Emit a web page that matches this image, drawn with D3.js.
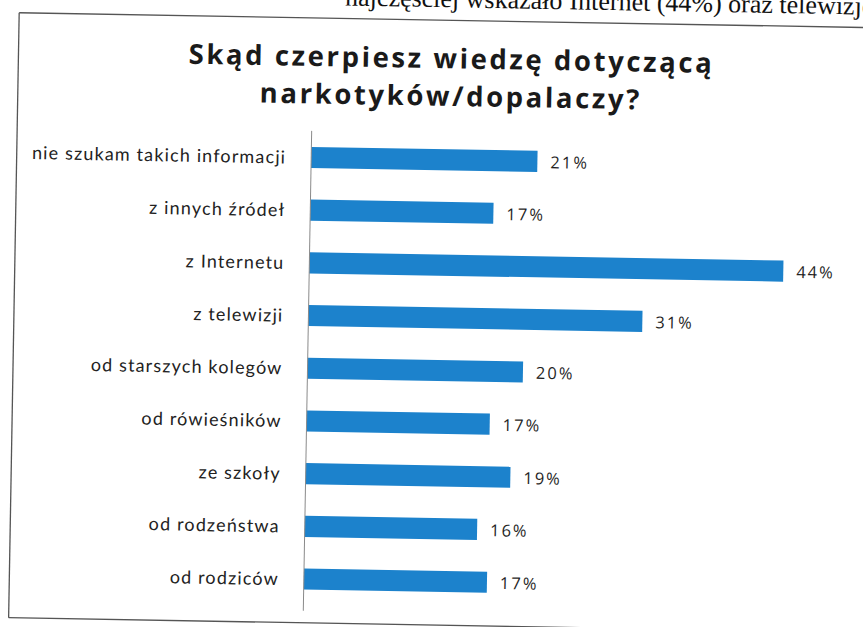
<!DOCTYPE html>
<html>
<head>
<meta charset="utf-8">
<script src="https://cdn.jsdelivr.net/npm/d3@7"></script>
<style>
  html, body { margin: 0; padding: 0; background: #fff; }
  svg { display: block; }
</style>
</head>
<body>
<svg id="chart" width="863" height="627"></svg>
<script>
// ---- data ----
const categories = [
  "nie szukam takich informacji",
  "z innych źródeł",
  "z Internetu",
  "z telewizji",
  "od starszych kolegów",
  "od rówieśników",
  "ze szkoły",
  "od rodzeństwa",
  "od rodziców"
];
const values = [21, 17, 44, 31, 20, 17, 19, 16, 17];
const valueLabels = ["21%", "17%", "44%", "31%", "20%", "17%", "19%", "16%", "17%"];
const titleLines = ["Skąd czerpiesz wiedzę dotyczącą", "narkotyków/dopalaczy?"];
const pageTextBefore = "najczęściej wskazało";
const pageTextAfter = "Internet (44%) oraz telewizję (31%).";

// ---- layout ----
const W = 863, H = 627;
const svg = d3.select("#chart");
// the scanned page is slightly rotated
const page = svg.append("g").attr("transform", `rotate(1, ${W / 2}, ${H / 2})`);

// running text of the page above the frame (cut at the top)
const pageText = page.append("g")
  .attr("font-family", "Liberation Serif, serif")
  .attr("font-size", 26)
  .attr("fill", "#111");
pageText.append("text")
  .attr("x", 557).attr("y", 7)
  .attr("text-anchor", "end")
  .text(pageTextBefore);
pageText.append("text")
  .attr("x", 564).attr("y", 7)
  .text(pageTextAfter);

// frame of the chart
const frame = page.append("g").attr("fill", "none").attr("stroke", "#555").attr("stroke-width", 1.3);
frame.append("line").attr("x1", 14).attr("y1", 20).attr("x2", W + 40).attr("y2", 20);
frame.append("line").attr("x1", 14).attr("y1", 20).attr("x2", 14).attr("y2", 625);
frame.append("line").attr("x1", 14).attr("y1", 625).attr("x2", W + 40).attr("y2", 625);

// title
const title = page.append("g")
  .attr("font-family", "Open Sans, sans-serif")
  .attr("font-weight", "bold")
  .attr("font-size", 27.5)
  .attr("letter-spacing", 2.6)
  .attr("fill", "#1a1a1a");
title.selectAll("text").data(titleLines).join("text")
  .attr("text-anchor", "middle")
  .attr("x", 447)
  .attr("y", (d, i) => 68 + i * 37.6)
  .text(d => d);

// scales
const x = d3.scaleLinear().domain([0, 44]).range([308.5, 782.5]);
const y = d3.scaleBand().domain(categories).range([133.2, 607.6]).paddingInner(0.6).paddingOuter(0.3);

// bars
page.append("g").selectAll("rect").data(values).join("rect")
  .attr("x", x(0))
  .attr("y", (d, i) => y(categories[i]))
  .attr("width", d => x(d) - x(0))
  .attr("height", y.bandwidth())
  .attr("fill", "#1c82cc");

// category axis
const axis = d3.axisLeft(y).tickSize(0).tickPadding(25);
const gAxis = page.append("g").attr("transform", `translate(${x(0)},0)`).call(axis);
gAxis.select(".domain").attr("stroke", "#8a8a8a").attr("stroke-width", 1)
  .attr("d", `M0,${133}V${613}`);
gAxis.selectAll(".tick text")
  .attr("font-family", "Lato, sans-serif")
  .attr("font-size", 18)
  .attr("letter-spacing", 1.15)
  .attr("fill", "#222")
  .attr("dy", "0.36em");

// value labels
page.append("g").selectAll("text").data(values).join("text")
  .attr("x", d => x(d) + 13)
  .attr("y", (d, i) => y(categories[i]) + y.bandwidth() / 2)
  .attr("dy", "0.4em")
  .attr("font-family", "Open Sans, sans-serif")
  .attr("font-size", 16.5)
  .attr("letter-spacing", 2)
  .attr("fill", "#1f1f1f")
  .text((d, i) => valueLabels[i]);
</script>
</body>
</html>
